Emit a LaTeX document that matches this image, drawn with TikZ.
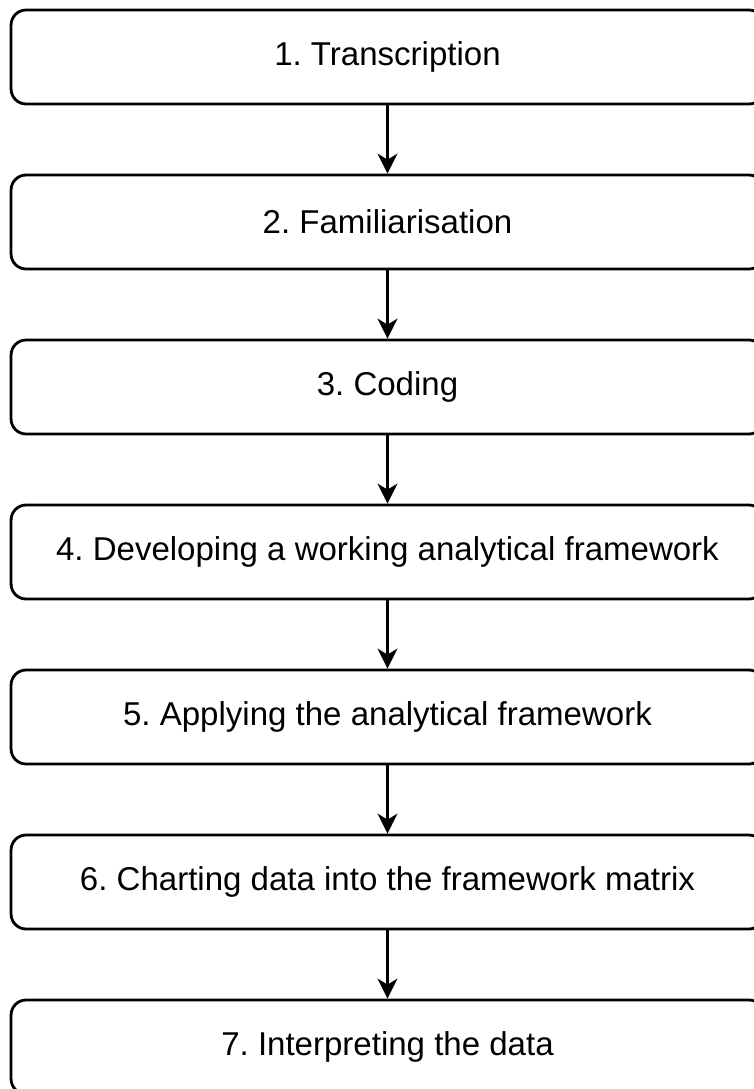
\documentclass[tikz,border=0pt]{standalone}
\usepackage{fontspec}
\setmainfont{Liberation Sans}
\frenchspacing
\usetikzlibrary{arrows.meta}
\begin{document}
\begin{tikzpicture}[x=0.02cm,y=-0.02cm,
  stepbox/.style={draw=black, line width=1.6pt, rounded corners=0.3cm, fill=white,
    minimum width=15.06cm, minimum height=1.88cm, inner sep=0pt,
    font=\fontsize{18.8pt}{22pt}\selectfont},
  flow/.style={line width=1.3pt, -{Stealth[length=0.4cm,width=0.4cm,inset=0.12cm]}}]
\useasboundingbox (0,0) rectangle (754,1089);
\clip (0,0) rectangle (754,1089);
\fill[white] (0,0) rectangle (754,1089);
\node[stepbox] (s1) at (387.5,57) {1. Transcription};
\node[stepbox] (s2) at (387.5,222) {2. Familiarisation};
\node[stepbox] (s3) at (387.5,387) {3. Coding};
\node[stepbox] (s4) at (387.5,552) {4. Developing a working analytical framework};
\node[stepbox] (s5) at (387.5,717) {5. Applying the analytical framework};
\node[stepbox] (s6) at (387.5,882) {6. Charting data into the framework matrix};
\node[stepbox] (s7) at (387.5,1047) {7. Interpreting the data};
\foreach \a/\b in {s1/s2,s2/s3,s3/s4,s4/s5,s5/s6,s6/s7}
  \draw[flow] (\a.south) -- (\b.north);
\end{tikzpicture}
\end{document}
